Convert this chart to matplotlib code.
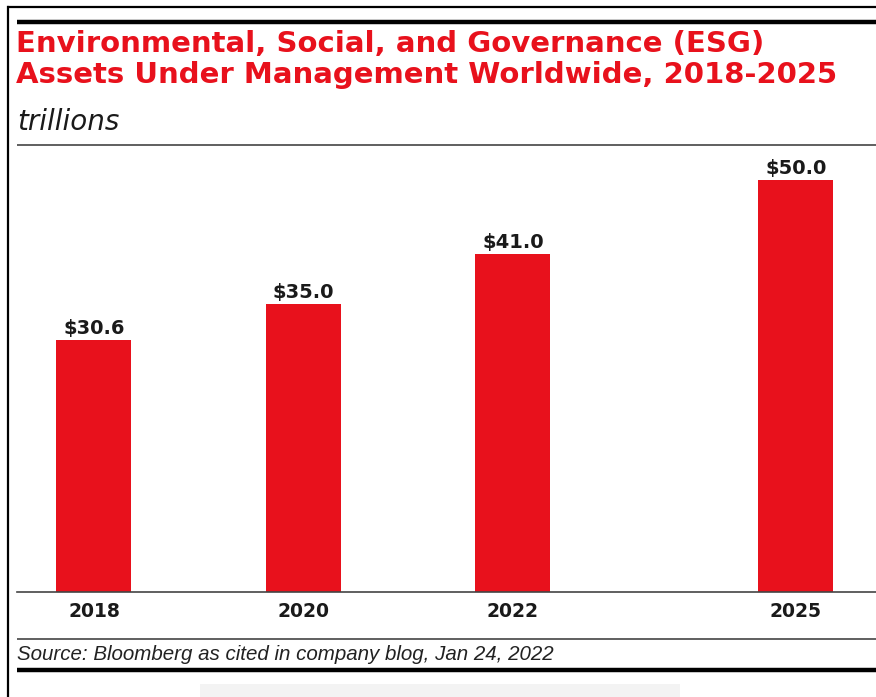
import matplotlib.pyplot as plt
from matplotlib.lines import Line2D
from matplotlib.patches import Rectangle

# data
years = ["2018", "2020", "2022", "2025"]
assets = [30.6, 35.0, 41.0, 50.0]
xpos = [0, 1, 2, 3.35]   # 2025 pushed out a bit to show the jump in years

W, H = 876, 697
red = "#e8111c"
ink = "#1a1a1a"

fig = plt.figure(figsize=(W / 100, H / 100), dpi=100)
fig.patch.set_facecolor("white")


def px(x, y):
    # pixel coords (from top-left) -> figure fraction
    return x / W, 1 - y / H


def hline(y, lw, color, x0=17, x1=W):
    (a, b), (c, d) = px(x0, y), px(x1, y)
    fig.add_artist(Line2D([a, c], [b, d], lw=lw, color=color,
                          transform=fig.transFigure, solid_capstyle="butt"))


# frame + rules
hline(7, 1.6, "black", x0=7)
l0, t0 = px(8, 7)
fig.add_artist(Line2D([l0, l0], [t0, 0], lw=1.6, color="black", transform=fig.transFigure))
hline(22, 3.2, "black")
hline(145, 1.2, "#444444")
hline(639, 1.2, "#444444")
hline(670, 3.2, "black")

# faint strip at the bottom
rx, ry = px(200, 697)
fig.add_artist(Rectangle((rx, ry), 480 / W, 13 / H, transform=fig.transFigure,
                         facecolor="#f3f3f3", edgecolor="none"))

# titles
x, y = px(16, 52)
fig.text(x, y, "Environmental, Social, and Governance (ESG)", color=red,
         fontsize=21, fontweight="bold", va="baseline")
x, y = px(16, 83)
fig.text(x, y, "Assets Under Management Worldwide, 2018-2025", color=red,
         fontsize=21, fontweight="bold", va="baseline")
x, y = px(17, 130)
fig.text(x, y, "trillions", color=ink, fontsize=20, style="italic", va="baseline")
x, y = px(17, 655)
fig.text(x, y, "Source: Bloomberg as cited in company blog, Jan 24, 2022", color="#222222",
         fontsize=14.8, style="italic", family="Liberation Sans", va="center")

# bar chart area
left, bottom = px(17, 592)
ax = fig.add_axes([left, bottom, 1 - left, (592 - 150) / H])
ax.bar(xpos, assets, width=0.358, color=red, zorder=2)
for xp, v in zip(xpos, assets):
    ax.text(xp, v + 0.75, f"${v:.1f}", ha="center", va="baseline",
            fontsize=14, fontweight="bold", color=ink)

ax.set_xlim(-0.3675, 3.733)
ax.set_ylim(0, 442 / 8.235)
ax.set_xticks(xpos)
ax.set_xticklabels(years, fontsize=13.5, fontweight="bold", color=ink)
ax.tick_params(axis="x", length=0, pad=7.5)
ax.set_yticks([])
for s in ["top", "left", "right"]:
    ax.spines[s].set_visible(False)
ax.spines["bottom"].set_color("#444444")
ax.spines["bottom"].set_linewidth(1.2)
ax.set_facecolor("none")

fig.savefig("out.png", dpi=100)
